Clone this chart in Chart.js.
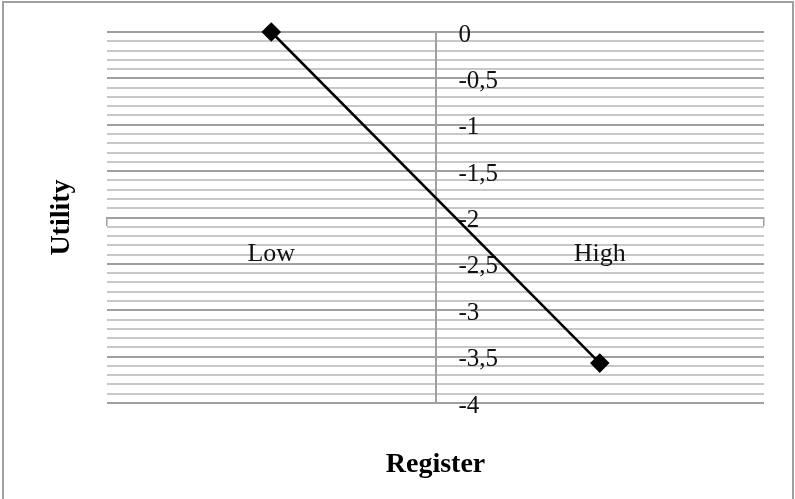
<!DOCTYPE html>
<html>
<head>
<meta charset="utf-8">
<title>Utility by Register</title>
<script src="https://cdn.jsdelivr.net/npm/chart.js@4/dist/chart.umd.min.js"></script>
<style>
  html, body { margin: 0; padding: 0; background: #fff; }
  canvas { display: block; }
</style>
</head>
<body>
<canvas id="utilityChart" width="795" height="499"></canvas>
<script>
// chart values
const categories = ["Low", "High"];
const utilityValues = [0, -3.57];
const yTickValues = [0, -0.5, -1, -1.5, -2, -2.5, -3, -3.5, -4];

const AXIS_GREY = "#a0a0a0";
const MINOR_GREY = "#c8c8c8";
const FONT_FAMILY = "'Liberation Serif', 'Times New Roman', serif";

// major gridline every 0.5, minor every 0.1
function isMajorTick(value) {
  return Math.round(value * 10) % 5 === 0;
}

// Excel style decimal comma
function formatTick(value) {
  return String(value).replace(".", ",");
}

// white background + outer chart frame
const framePlugin = {
  id: "frame",
  beforeDraw(chart) {
    const ctx = chart.ctx;
    ctx.save();
    ctx.fillStyle = "#fff";
    ctx.fillRect(0, 0, chart.width, chart.height);
    ctx.strokeStyle = AXIS_GREY;
    ctx.lineWidth = 2;
    ctx.strokeRect(3, 2, chart.width - 5, chart.height + 10);
    ctx.restore();
  },
};

// value axis labels sit to the right of the centred axis, left aligned
const yLabelPlugin = {
  id: "yLabels",
  beforeDatasetsDraw(chart) {
    const yScale = chart.scales.y;
    const xScale = chart.scales.x;
    const axisX = xScale.getPixelForValue(0.5);
    const ctx = chart.ctx;
    ctx.save();
    ctx.font = "25px " + FONT_FAMILY;
    ctx.fillStyle = "#111";
    ctx.textAlign = "left";
    ctx.textBaseline = "middle";
    yTickValues.forEach((v) => {
      ctx.fillText(formatTick(v), axisX + 23, yScale.getPixelForValue(v) + 3);
    });
    ctx.restore();
  },
};

const ctx = document.getElementById("utilityChart").getContext("2d");

new Chart(ctx, {
  type: "line",
  data: {
    labels: categories,
    datasets: [
      {
        label: "Utility",
        data: utilityValues,
        xAxisID: "x",
        yAxisID: "y",
        borderColor: "#000",
        borderWidth: 2.5,
        tension: 0,
        pointStyle: "rectRot",
        pointRadius: 8,
        pointBackgroundColor: "#000",
        pointBorderColor: "#000",
        clip: false,
      },
    ],
  },
  options: {
    responsive: false,
    animation: false,
    layout: { padding: { top: 32, right: 31, left: 0, bottom: 0 } },
    plugins: {
      legend: { display: false },
      tooltip: { enabled: false },
    },
    scales: {
      x: {
        axis: "x",
        type: "category",
        position: { y: -2 },
        offset: true,
        grid: {
          offset: true,
          drawOnChartArea: false,
          drawTicks: true,
          tickLength: 7,
          color: AXIS_GREY,
          lineWidth: 1.5,
        },
        border: { display: true, color: AXIS_GREY, width: 2 },
        ticks: {
          padding: 14,
          color: "#111",
          font: { family: FONT_FAMILY, size: 26 },
        },
      },
      y: {
        axis: "y",
        type: "linear",
        position: { x: 0.5 },
        min: -4,
        max: 0,
        grid: {
          drawTicks: false,
          color: (c) =>
            c.tick && isMajorTick(c.tick.value) ? AXIS_GREY : MINOR_GREY,
          lineWidth: 2,
        },
        border: { display: true, color: AXIS_GREY, width: 2 },
        ticks: {
          display: false,
          stepSize: 0.1,
          autoSkip: false,
        },
      },
      yTitle: {
        axis: "y",
        type: "linear",
        position: "left",
        grid: { display: false },
        border: { display: false },
        ticks: { display: false },
        title: {
          display: true,
          text: "Utility",
          color: "#000",
          font: { family: FONT_FAMILY, size: 28, weight: "bold" },
          padding: { top: 45, bottom: 0 },
        },
        afterFit(scale) {
          scale.width = 107;
        },
      },
      xTitle: {
        axis: "x",
        type: "linear",
        position: "bottom",
        grid: { display: false },
        border: { display: false },
        ticks: { display: false },
        title: {
          display: true,
          text: "Register",
          color: "#000",
          font: { family: FONT_FAMILY, size: 28, weight: "bold" },
          padding: { top: 0, bottom: 17 },
        },
        afterFit(scale) {
          scale.height = 96;
        },
      },
    },
  },
  plugins: [framePlugin, yLabelPlugin],
});
</script>
</body>
</html>
